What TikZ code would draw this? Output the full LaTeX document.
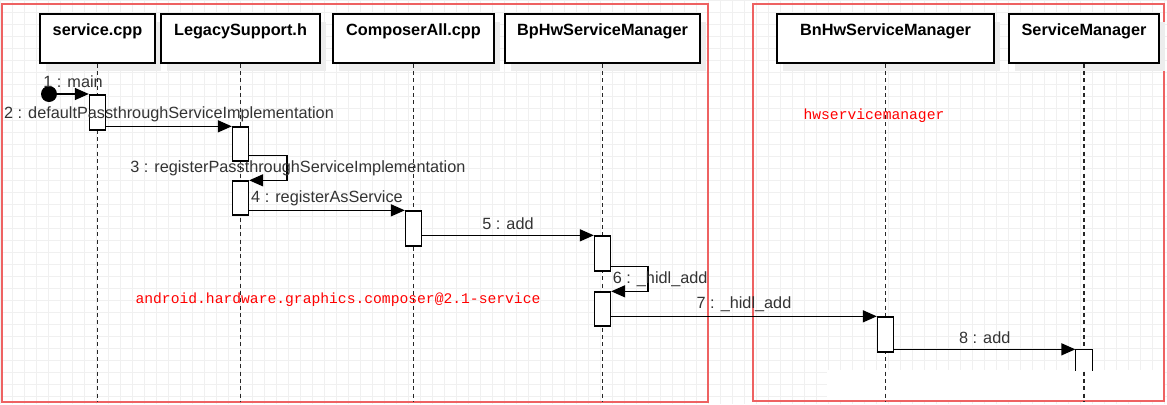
\documentclass[tikz,border=0pt]{standalone}
\usepackage{fontspec}
\setmainfont{Liberation Sans}
\newfontfamily\redmono{Liberation Mono}
\usetikzlibrary{arrows.meta,shadows}
\definecolor{frame}{RGB}{238,98,98}
\definecolor{gridline}{RGB}{240,240,240}
\definecolor{txt}{RGB}{51,51,51}

\tikzset{
  head/.style={draw, line width=1pt, fill=white, minimum height=36.75pt,
    text height=9pt, text depth=14pt, inner sep=0pt,
    font=\fontsize{12.2}{14}\selectfont\bfseries,
    drop shadow={shadow xshift=4.5pt, shadow yshift=-6pt, fill=black!7, opacity=1}},
  lifeline/.style={draw=black!85, line width=1pt, dash pattern=on 3pt off 2.5pt},
  act/.style={draw, line width=1pt, fill=white, minimum width=12pt, inner sep=0pt},
  msg/.style={line width=1.1pt, -{Triangle[length=10.5pt,width=9pt]}},
  lbl/.style={text=txt, font=\fontsize{12.2}{14}\selectfont, inner sep=1pt},
  note/.style={text=red, font=\redmono\fontsize{11}{13}\selectfont},
}

\begin{document}
\begin{tikzpicture}[x=0.75pt, y=-0.75pt]
    \useasboundingbox (0,0) rectangle (1167,404);
    % background grid
    \foreach \x in {0,12,...,1164} {
        \draw[gridline, line width=0.5pt] (\x,0) -- (\x,404);
    }
    \foreach \y in {0,12,...,396} {
        \draw[gridline, line width=0.5pt] (0,\y) -- (1167,\y);
    }
    \fill[white] (827,370) rectangle (1163,400);

    % process frames
    \draw[frame, line width=1.5pt] (2,4) rectangle (708,402);
    \draw[frame, line width=1.5pt] (753,4) rectangle (1164,401);

    % lifeline heads
    \node[head, minimum width=86.25pt] (svc) at (97.5,38.5) {service.cpp};
    \node[head, minimum width=119.25pt] (legacy) at (240.5,38.5) {LegacySupport.h};
    \node[head, minimum width=120.75pt] (composer) at (413.5,38.5) {ComposerAll.cpp};
    \node[head, minimum width=146.25pt] (bphw) at (602.5,38.5) {BpHwServiceManager};
    \node[head, minimum width=162.75pt] (bnhw) at (885.5,38.5) {BnHwServiceManager};
    \node[head, minimum width=112.5pt] (sm) at (1084,38.5) {ServiceManager};

    \foreach \n in {svc, legacy, composer, bphw, bnhw, sm} {
        \draw[lifeline] (\n.south) -- (\n.south |- 0,402);
    }

    % activations
    \node[act, minimum height=26.25pt] (a1) at (97.5,112.5) {};
    \node[act, minimum height=25.5pt] (a2) at (240.5,144) {};
    \node[act, minimum height=25.5pt] (a3) at (240.5,198) {};
    \node[act, minimum height=26.25pt] (a4) at (413.5,228.5) {};
    \node[act, minimum height=26.25pt] (a5) at (602.5,253.5) {};
    \node[act, minimum height=25.5pt] (a6) at (602.5,309) {};
    \node[act, minimum height=26.25pt] (a7) at (885.5,334.5) {};
    \node[act, draw=none, minimum height=15pt] (a8) at (1084,360) {};
    \draw[line width=1pt] (a8.south west) -- (a8.north west) -- (a8.north east) -- (a8.south east);

    % messages
    \node[fill, circle, minimum size=12pt, inner sep=0pt] (s0) at (49,94) {};
    \draw[msg] (s0) -- node[lbl, above=3pt] {1 : main} (s0 -| a1.west);
    \draw[msg] (a1.east |- a2.north) -- node[lbl, above=2pt] {2 : defaultPassthroughServiceImplementation} (a2.north west);
    \draw[msg] ([yshift=4.5pt]a2.south east) -- ++(38,0)
        |- node[lbl, pos=0.25, xshift=8pt] {3 : registerPassthroughServiceImplementation} (a3.north east);
    \draw[msg] (a3.east |- a4.north) -- node[lbl, above=2pt] {4 : registerAsService} (a4.north west);
    \draw[msg] (a4.east |- a5.north) -- node[lbl, above=2.5pt] {5 : add} (a5.north west);
    \draw[msg] ([yshift=3.75pt]a5.south east) -- ++(37,0)
        |- node[lbl, pos=0.25, xshift=9pt] {6 : \_hidl\_add} (a6.north east);
    \draw[msg] (a6.east |- a7.north) -- node[lbl, above=2pt] {7 : \_hidl\_add} (a7.north west);
    \draw[msg] (a7.east |- a8.north) -- node[lbl, above=2.5pt] {8 : add} (a8.north west);

    % process names
    \node[note] (proc1) at (338,300) {android.hardware.graphics.composer@2.1-service};
    \node[note] (proc2) at (874,116) {hwservicemanager};
\end{tikzpicture}
\end{document}
